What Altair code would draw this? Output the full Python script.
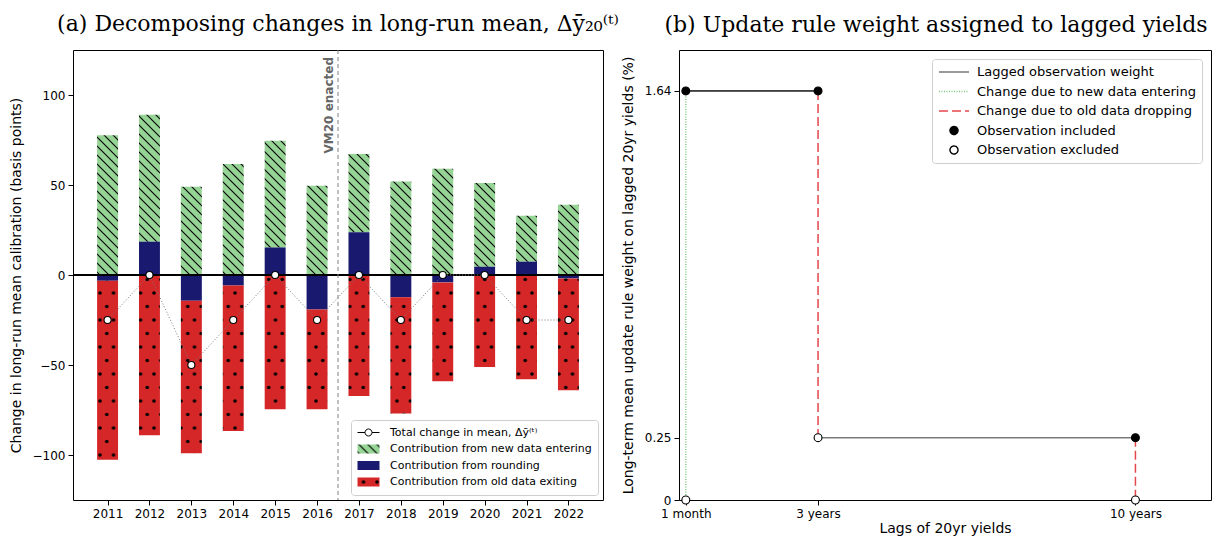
import re
import altair as alt
import pandas as pd
import jinja2

# ---------------- Panel (a) data ----------------
years = [2011, 2012, 2013, 2014, 2015, 2016, 2017, 2018, 2019, 2020, 2021, 2022]
new_data = [77.6, 70.5, 49.0, 61.7, 59.3, 49.6, 43.5, 52.0, 59.0, 46.5, 25.5, 39.0]
rounding = [-3.2, 18.5, -14.3, -5.9, 15.3, -19.1, 23.7, -12.4, -4.1, 4.6, 7.4, -1.9]
old_data = [-99.4, -89.0, -84.7, -80.8, -74.6, -55.5, -67.2, -64.6, -54.9, -51.1, -57.9, -62.1]
total_change = [-25, 0, -50, -25, 0, -25, 0, -25, 0, 0, -25, -25]
vm20_year = [2016.5]
vm20_label = ["VM20 enacted"]
y_ticks_a = [-100, -50, 0, 50, 100]

components_a = [
    "Total change in mean, \u0394\u0233\u207d\u1d57\u207e",
    "Contribution from new data entering",
    "Contribution from rounding",
    "Contribution from old data exiting",
]
fill_a = ["white", "url(#hatchGreen)", "#191970", "url(#dotsRed)"]
stroke_a = ["black", "transparent", "transparent", "transparent"]
shape_a = [
    "M-1,0H0.25M1.417,0H2.667M1.417,0A0.583,0.583 0 1,1 0.25,0A0.583,0.583 0 1,1 1.417,0",
    "M-1,-0.75H2.667V0.75H-1Z",
    "M-1,-0.75H2.667V0.75H-1Z",
    "M-1,-0.75H2.667V0.75H-1Z",
]

# ---------------- Panel (b) data ----------------
lag_months = [1, 36, 120]
lag_labels = ["1 month", "3 years", "10 years"]
weight_ticks = [0, 0.25, 1.64]
components_b = [
    "Lagged observation weight",
    "Change due to new data entering",
    "Change due to old data dropping",
    "Observation included",
    "Observation excluded",
]
seg_component = [components_b[0], components_b[0], components_b[1], components_b[2], components_b[2]]
seg_x0 = [1, 36, 1, 36, 120]
seg_x1 = [36, 120, 1, 36, 120]
seg_y0 = [1.64, 0.25, 0.0, 1.64, 0.25]
seg_y1 = [1.64, 0.25, 1.64, 0.25, 0.0]
prior_x0 = [1]
prior_x1 = [36]
prior_y = [1.64]
included_x = [1, 36, 120]
included_y = [1.64, 1.64, 0.25]
excluded_x = [1, 36, 120]
excluded_y = [0.0, 0.25, 0.0]

stroke_b = ["#7a7a7a", "#7cc97c", "#e3474b", "black", "black"]
dash_b = [[1, 0], [1, 1.5], [9, 4], [1, 0], [1, 0]]
fill_b = ["transparent", "transparent", "transparent", "black", "white"]
shape_b = [
    "M-1,0H4",
    "M-1,0H4",
    "M-1,0H4",
    "M0.833,0A0.667,0.667 0 1,1 2.167,0A0.667,0.667 0 1,1 0.833,0",
    "M0.833,0A0.667,0.667 0 1,1 2.167,0A0.667,0.667 0 1,1 0.833,0",
]

# ---------------- tables ----------------
rows = []
for i, yr in enumerate(years):
    r = rounding[i]
    pos_base = max(r, 0.0)
    neg_base = min(r, 0.0)
    rows.append({"year": yr, "component": components_a[1], "y0": pos_base, "y1": pos_base + new_data[i]})
    rows.append({"year": yr, "component": components_a[2], "y0": 0.0, "y1": r})
    rows.append({"year": yr, "component": components_a[3], "y0": neg_base, "y1": neg_base + old_data[i]})
bars_df = pd.DataFrame(rows)
total_df = pd.DataFrame({"year": years, "total": total_change})
vm_df = pd.DataFrame({"x": vm20_year, "label": vm20_label})
legend_a_df = pd.DataFrame({"component": components_a})

seg_df = pd.DataFrame({"component_b": seg_component, "x0": seg_x0, "x1": seg_x1, "y0": seg_y0, "y1": seg_y1})
prior_df = pd.DataFrame({"x0": prior_x0, "x1": prior_x1, "y0": prior_y})
pts_df = pd.DataFrame({
    "component_b": [components_b[3]] * len(included_x) + [components_b[4]] * len(excluded_x),
    "x": included_x + excluded_x,
    "y": included_y + excluded_y,
})
legend_b_df = pd.DataFrame({"component_b": components_b})

TITLE_FONT = "DejaVu Serif"
TITLE_SIZE = 22
AXIS_STYLE = dict(grid=False, domain=False, tickColor="black", tickSize=5, tickWidth=1,
                  labelFont="DejaVu Sans", labelFontSize=12, labelColor="black", labelPadding=3,
                  titleFont="DejaVu Sans", titleFontSize=14, titleFontWeight="normal", titleColor="black")

# ---------------- Panel (a) ----------------
xs_a = alt.Scale(domain=[2010.175, 2022.825], nice=False, zero=False)
ys_a = alt.Scale(domain=[-125, 125], nice=False, zero=False)
x_axis_a = alt.Axis(values=years, format="d", title=None, **AXIS_STYLE)
y_axis_a = alt.Axis(values=y_ticks_a, title="Change in long-run mean calibration (basis points)",
                    titlePadding=9, **AXIS_STYLE)

legend_a = alt.Legend(
    title=None, orient="bottom-right", offset=5, padding=6,
    fillColor="white", strokeColor="#cfcfcf", cornerRadius=3,
    labelFont="DejaVu Sans", labelFontSize=11, labelColor="black", labelLimit=400,
    symbolSize=144, symbolStrokeWidth=1, labelOffset=20, rowPadding=3.5,
)
fill_scale_a = alt.Scale(domain=components_a, range=fill_a)
stroke_scale_a = alt.Scale(domain=components_a, range=stroke_a)
shape_scale_a = alt.Scale(domain=components_a, range=shape_a)

bars = alt.Chart(bars_df).transform_calculate(
    xl="datum.year - 0.25", xr="datum.year + 0.25"
).mark_bar(strokeWidth=0, opacity=1).encode(
    x=alt.X("xl:Q", scale=xs_a, axis=x_axis_a),
    x2="xr:Q",
    y=alt.Y("y0:Q", scale=ys_a, axis=y_axis_a),
    y2="y1:Q",
    fill=alt.Fill("component:N", scale=fill_scale_a, legend=legend_a),
)

zero_line = alt.Chart(total_df).mark_rule(color="black", strokeWidth=1).encode(
    y=alt.Y(datum=0, scale=ys_a, axis=y_axis_a)
)

vm_rule = alt.Chart(vm_df).mark_rule(color="#808080", strokeDash=[4, 3], strokeWidth=1).encode(
    x=alt.X("x:Q", scale=xs_a, axis=x_axis_a)
)
vm_text = alt.Chart(vm_df).mark_text(
    angle=270, align="right", baseline="bottom", dx=-7, dy=-2,
    font="DejaVu Sans", fontSize=12, fontWeight="bold", color="#666666",
).encode(
    x=alt.X("x:Q", scale=xs_a, axis=x_axis_a), y=alt.value(0), text="label:N"
)

total_line = alt.Chart(total_df).mark_line(color="#7a7a7a", strokeDash=[1, 2], strokeWidth=1).encode(
    x=alt.X("year:Q", scale=xs_a, axis=x_axis_a), y=alt.Y("total:Q", scale=ys_a, axis=y_axis_a)
)
total_pts = alt.Chart(total_df).mark_point(
    shape="circle", filled=True, fill="white", stroke="black", strokeWidth=1.1, size=50, opacity=1
).encode(
    x=alt.X("year:Q", scale=xs_a, axis=x_axis_a), y=alt.Y("total:Q", scale=ys_a, axis=y_axis_a)
)

legend_layer_a = alt.Chart(legend_a_df).transform_filter("false").mark_point(opacity=1).encode(
    fill=alt.Fill("component:N", scale=fill_scale_a, legend=legend_a),
    stroke=alt.Stroke("component:N", scale=stroke_scale_a, legend=legend_a),
    shape=alt.Shape("component:N", scale=shape_scale_a, legend=legend_a),
)

panel_a = alt.layer(bars, zero_line, vm_rule, vm_text, total_line, total_pts, legend_layer_a).properties(
    width=530, height=450,
    title=alt.Title(
        "(a) Decomposing changes in long-run mean, \u0394\u0233\u2082\u2080\u207d\u1d57\u207e",
        font=TITLE_FONT, fontSize=TITLE_SIZE, fontWeight="normal", color="black",
        anchor="middle", frame="group", offset=13.5,
    ),
)

# ---------------- Panel (b) ----------------
xs_b = alt.Scale(domain=[-0.8, 140], nice=False, zero=False)
ys_b = alt.Scale(domain=[0, 1.804], nice=False, zero=False)
label_expr = " : ".join(
    f"datum.value == {m} ? '{lab}'" for m, lab in zip(lag_months, lag_labels)
) + " : ''"
x_axis_b = alt.Axis(values=lag_months, labelExpr=label_expr, title="Lags of 20yr yields",
                    titlePadding=2, **AXIS_STYLE)
y_axis_b = alt.Axis(values=weight_ticks, format=".2~f",
                    title="Long-term mean update rule weight on lagged 20yr yields (%)",
                    titlePadding=9, **AXIS_STYLE)

legend_b = alt.Legend(
    title=None, orient="top-right", offset=9, padding=6,
    fillColor="white", strokeColor="#cfcfcf", cornerRadius=3,
    labelFont="DejaVu Sans", labelFontSize=13, labelColor="black", labelLimit=400,
    symbolSize=144, symbolStrokeWidth=1.4, labelOffset=25, rowPadding=5.5,
)
stroke_scale_b = alt.Scale(domain=components_b, range=stroke_b)
dash_scale_b = alt.Scale(domain=components_b, range=dash_b)
fill_scale_b = alt.Scale(domain=components_b, range=fill_b)
shape_scale_b = alt.Scale(domain=components_b, range=shape_b)

segs = alt.Chart(seg_df).mark_rule(strokeWidth=1.5).encode(
    x=alt.X("x0:Q", scale=xs_b, axis=x_axis_b),
    x2="x1:Q",
    y=alt.Y("y0:Q", scale=ys_b, axis=y_axis_b),
    y2="y1:Q",
    stroke=alt.Stroke("component_b:N", scale=stroke_scale_b, legend=legend_b),
    strokeDash=alt.StrokeDash("component_b:N", scale=dash_scale_b, legend=legend_b),
)
prior = alt.Chart(prior_df).mark_rule(color="black", strokeWidth=1).encode(
    x=alt.X("x0:Q", scale=xs_b, axis=x_axis_b), x2="x1:Q",
    y=alt.Y("y0:Q", scale=ys_b, axis=y_axis_b),
)
pts = alt.Chart(pts_df).mark_point(shape="circle", size=62, strokeWidth=1.1, opacity=1).encode(
    x=alt.X("x:Q", scale=xs_b, axis=x_axis_b),
    y=alt.Y("y:Q", scale=ys_b, axis=y_axis_b),
    fill=alt.Fill("component_b:N", scale=fill_scale_b, legend=legend_b),
    stroke=alt.Stroke("component_b:N", scale=stroke_scale_b, legend=legend_b),
)
legend_layer_b = alt.Chart(legend_b_df).transform_filter("false").mark_point(opacity=1).encode(
    fill=alt.Fill("component_b:N", scale=fill_scale_b, legend=legend_b),
    stroke=alt.Stroke("component_b:N", scale=stroke_scale_b, legend=legend_b),
    strokeDash=alt.StrokeDash("component_b:N", scale=dash_scale_b, legend=legend_b),
    shape=alt.Shape("component_b:N", scale=shape_scale_b, legend=legend_b),
)

panel_b = alt.layer(segs, prior, pts, legend_layer_b).properties(
    width=532, height=450,
    title=alt.Title(
        "(b) Update rule weight assigned to lagged yields",
        font=TITLE_FONT, fontSize=TITLE_SIZE, fontWeight="normal", color="black",
        anchor="middle", frame="group", offset=13.5, dx=-9,
    ),
)

chart = alt.hconcat(panel_a, panel_b, spacing=76, bounds="flush").resolve_scale(
    fill="independent", stroke="independent", shape="independent", strokeDash="independent",
).resolve_legend(
    fill="independent", stroke="independent", shape="independent", strokeDash="independent"
).configure(
    padding={"left": 8, "top": 12, "right": 5, "bottom": 2}, font="DejaVu Sans", background="white"
).configure_view(
    stroke="black", strokeWidth=1
)

# SVG fill patterns (hatching) referenced by the bar fills
PATTERN_DEFS = (
    '<svg width="0" height="0" style="position:absolute;left:0;top:0" aria-hidden="true"><defs>'
    '<pattern id="hatchGreen" patternUnits="userSpaceOnUse" width="9" height="9">'
    '<rect width="9" height="9" fill="#96d495"/>'
    '<path d="M-1,-1L10,10M-1,8L1,10M8,-1L10,1" stroke="black" stroke-width="1.1"/>'
    '</pattern>'
    '<pattern id="dotsRed" patternUnits="userSpaceOnUse" width="13.5" height="27">'
    '<rect width="13.5" height="27" fill="#d62728"/>'
    '<circle cx="0" cy="0" r="1.8" fill="black"/><circle cx="13.5" cy="0" r="1.8" fill="black"/>'
    '<circle cx="0" cy="27" r="1.8" fill="black"/><circle cx="13.5" cy="27" r="1.8" fill="black"/>'
    '<circle cx="6.75" cy="13.5" r="1.8" fill="black"/>'
    '</pattern>'
    '</defs></svg>'
)
html = chart.to_html(embed_options={"renderer": "svg", "actions": False})
m = re.search(r"<body[^>]*>", html)
if m:
    html = html[: m.end()] + "\n" + PATTERN_DEFS + html[m.end():]
else:
    html = PATTERN_DEFS + html
page_template = jinja2.Template("{% raw %}" + html + "{% endraw %}")

chart.save("out.html", embed_options={"renderer": "svg", "actions": False}, template=page_template)
